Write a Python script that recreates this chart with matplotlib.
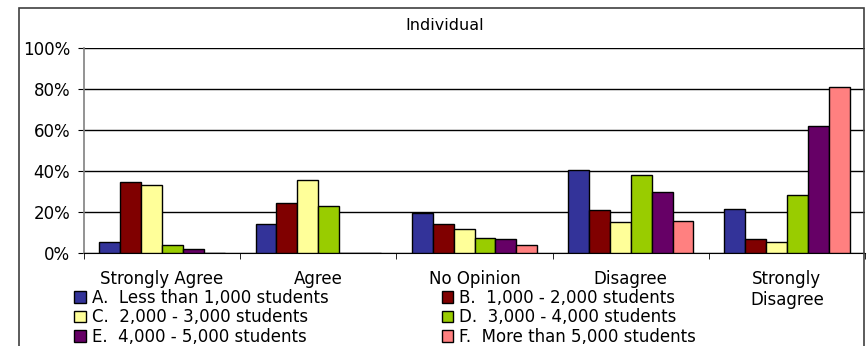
import matplotlib.pyplot as plt
from matplotlib.patches import Rectangle
import numpy as np

plt.rcParams['font.family'] = 'DejaVu Sans'

categories = ["Strongly Agree", "Agree", "No Opinion", "Disagree", "Strongly\nDisagree"]
series_names = ["A.  Less than 1,000 students",
                "B.  1,000 - 2,000 students",
                "C.  2,000 - 3,000 students",
                "D.  3,000 - 4,000 students",
                "E.  4,000 - 5,000 students",
                "F.  More than 5,000 students"]
colors = ["#333399", "#800000", "#FFFF99", "#99CC00", "#660066", "#FF8080"]

# percent of respondents per answer, one list per school size
size_a = [5.5, 14.1, 19.7, 40.5, 21.5]
size_b = [34.5, 24.4, 14.0, 20.8, 6.7]
size_c = [33.2, 35.4, 11.7, 15.0, 5.4]
size_d = [3.7, 22.9, 7.5, 38.2, 28.1]
size_e = [1.8, 0, 6.7, 29.6, 62.0]
size_f = [0, 0, 3.7, 15.6, 80.8]
values = [size_a, size_b, size_c, size_d, size_e, size_f]

W, H = 867, 346
fs = 12
fig = plt.figure(figsize=(W / 100, H / 100), dpi=100)
ax = fig.add_axes([84 / W, 93 / H, (865 - 84) / W, (253 - 48) / H])

# outer chart frame
fig.patches.append(Rectangle((19 / W, -0.1), (864 - 19) / W, (H - 8) / H + 0.1,
                             transform=fig.transFigure, fill=False,
                             edgecolor="#404040", lw=1.2))

x = np.arange(len(categories))
bw = 0.134
handles = []
for i, (vals, col) in enumerate(zip(values, colors)):
    b = ax.bar(x + (i - 2.5) * bw, vals, width=bw, color=col,
               edgecolor="black", linewidth=1.0, zorder=3, label=series_names[i])
    handles.append(b)

ax.set_xlim(-0.5, len(categories) - 0.5)
ax.set_ylim(0, 100)
ax.set_yticks(range(0, 101, 20))
ax.set_yticklabels([f"{v}%" for v in range(0, 101, 20)])
ax.yaxis.grid(True, color="black", lw=1.0)
ax.set_axisbelow(True)

ax.set_xticks(x)
ax.set_xticklabels(categories, linespacing=1.25)
ax.set_xticks(np.arange(len(categories) + 1) - 0.5, minor=True)
ax.tick_params(axis="x", which="major", length=0, pad=12, labelsize=fs)
ax.tick_params(axis="x", which="minor", length=4, color="black")
ax.tick_params(axis="y", length=4, pad=6, labelsize=fs, color="black")

for s in ["top", "right"]:
    ax.spines[s].set_visible(False)
ax.spines["left"].set_color("#808080")
ax.spines["left"].set_linewidth(1.2)
ax.spines["bottom"].set_color("black")

fig.text(445 / W, 1 - 25 / H, "Individual", ha="center", va="center", fontsize=11.5)

order = [0, 2, 4, 1, 3, 5]
fig.legend([handles[i] for i in order], [series_names[i] for i in order],
           ncol=2, loc="upper left", bbox_to_anchor=(74 / W, 1 - 289 / H),
           frameon=False, fontsize=fs, handlelength=0.7, handleheight=0.7,
           handletextpad=0.35, columnspacing=6.8, labelspacing=0.08,
           borderpad=0, borderaxespad=0)

fig.savefig("out.png", dpi=100)
